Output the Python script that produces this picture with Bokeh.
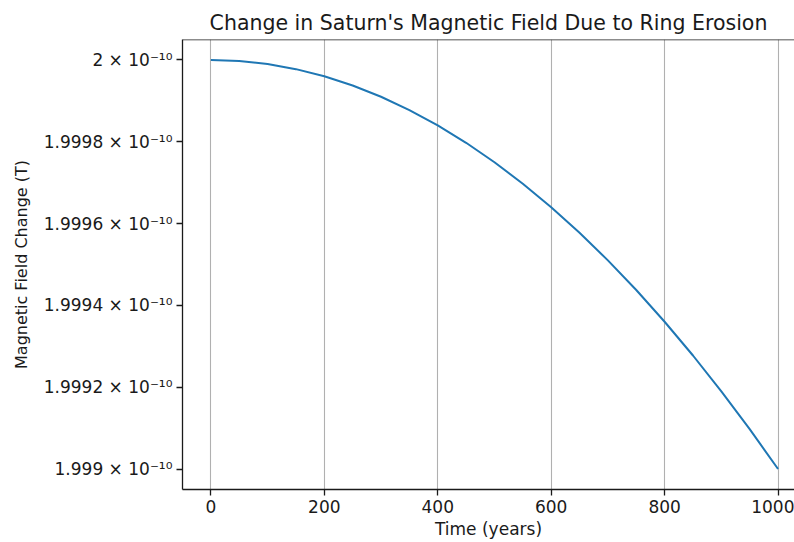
from bokeh.plotting import figure
from bokeh.models import FixedTicker, CustomJSTickFormatter, Span, ColumnDataSource
from bokeh.embed import file_html
from bokeh.resources import INLINE

# ---- data (field in units of 1e-10 T) ----
years = [0, 50, 100, 150, 200, 250, 300, 350, 400, 450, 500,
         550, 600, 650, 700, 750, 800, 850, 900, 950, 1000]
field_e10 = [2.0, 1.9999975, 1.99999, 1.9999775, 1.99996, 1.9999375,
             1.99991, 1.9998775, 1.99984, 1.9997975, 1.99975,
             1.9996975, 1.99964, 1.9995775, 1.99951, 1.9994375,
             1.99936, 1.9992775, 1.99919, 1.9990975, 1.999]
SCALE = 1e-10

x_ticks = [0, 200, 400, 600, 800, 1000]
y_ticks_e10 = [1.999, 1.9992, 1.9994, 1.9996, 1.9998, 2.0]
y_tick_labels = ["1.999 × 10⁻¹⁰", "1.9992 × 10⁻¹⁰", "1.9994 × 10⁻¹⁰",
                 "1.9996 × 10⁻¹⁰", "1.9998 × 10⁻¹⁰", "2 × 10⁻¹⁰"]

title_text = "Change in Saturn's Magnetic Field Due to Ring Erosion"
x_label = "Time (years)"
y_label = "Magnetic Field Change (T)"

# ---- build ----
field = [v * SCALE for v in field_e10]
y_ticks = [v * SCALE for v in y_ticks_e10]
y_lo = 1.99895 * SCALE
y_hi = 2.00005 * SCALE

FONT = "DejaVu Sans"
INK = "#1a1a1a"

p = figure(width=794, height=542, output_backend="svg", toolbar_location=None,
           y_axis_type="log", x_range=(-50, 1029), y_range=(y_lo, y_hi),
           min_border_left=182, min_border_right=0, min_border_top=39,
           min_border_bottom=53, title=title_text)

p.background_fill_color = "white"
p.border_fill_color = "white"
p.outline_line_color = None

p.title.text_font = FONT
p.title.text_font_size = "20.5px"
p.title.text_font_style = "normal"
p.title.text_color = INK
p.title.align = "center"

src = ColumnDataSource(dict(t=years, b=field))
p.line("t", "b", source=src, line_color="#1f77b4", line_width=2.0)

# grid: vertical only
p.ygrid.grid_line_color = None
p.xgrid.grid_line_color = "#b0b0b0"
p.xgrid.grid_line_width = 1.1
p.xgrid.ticker = FixedTicker(ticks=x_ticks)

# x axis
xa = p.xaxis[0]
xa.ticker = FixedTicker(ticks=x_ticks, minor_ticks=[])
xa.axis_label = x_label
xa.axis_label_text_font = FONT
xa.axis_label_text_font_size = "17px"
xa.axis_label_text_font_style = "normal"
xa.axis_label_text_color = INK
xa.axis_label_standoff = 3
xa.major_label_text_font = FONT
xa.major_label_text_font_size = "17px"
xa.major_label_text_color = INK
xa.major_label_standoff = 4
xa.major_tick_out = 6
xa.major_tick_in = 0
xa.minor_tick_line_color = None
xa.axis_line_width = 1.3
xa.axis_line_color = INK
xa.major_tick_line_color = INK
xa.major_tick_line_width = 1.3

# y axis
ya = p.yaxis[0]
ya.ticker = FixedTicker(ticks=y_ticks, minor_ticks=[])
ya.formatter = CustomJSTickFormatter(
    args=dict(tvals=y_ticks, labs=y_tick_labels),
    code="""
    let best = 0, d = Infinity;
    for (let i = 0; i < tvals.length; i++) {
        const e = Math.abs(tvals[i] - tick);
        if (e < d) { d = e; best = i; }
    }
    return labs[best];
    """)
ya.axis_label = y_label
ya.axis_label_text_font = FONT
ya.axis_label_text_font_size = "16px"
ya.axis_label_text_font_style = "normal"
ya.axis_label_text_color = INK
ya.axis_label_standoff = 10
ya.major_label_text_font = FONT
ya.major_label_text_font_size = "17px"
ya.major_label_text_color = INK
ya.major_label_standoff = 4
ya.major_tick_out = 6
ya.major_tick_in = 0
ya.minor_tick_line_color = None
ya.axis_line_width = 1.3
ya.axis_line_color = INK
ya.major_tick_line_color = INK
ya.major_tick_line_width = 1.3

# top spine
p.add_layout(Span(location=y_hi, dimension="width", line_color=INK,
                  line_width=1.3))

open("out.html", "w").write(file_html(p, INLINE))
